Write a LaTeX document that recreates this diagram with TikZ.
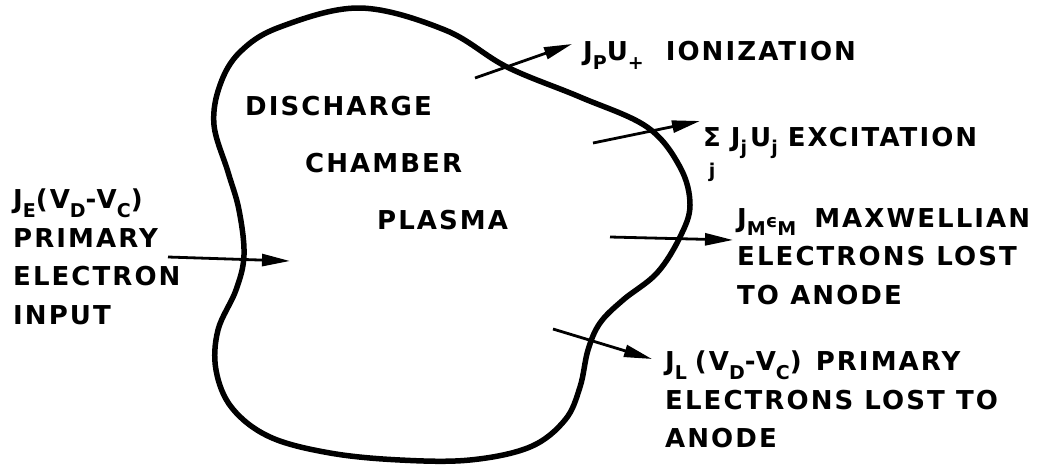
\documentclass[tikz,border=0pt]{standalone}
\usepackage{fontspec}
\setmainfont{DejaVu Sans}[LetterSpace=8]
\usetikzlibrary{arrows.meta}
\newcommand{\lettering}{\fontsize{26}{38.5}\selectfont\bfseries}
\newcommand{\lsub}[1]{\raisebox{-0.6ex}{\fontsize{19}{19}\selectfont #1}}
\newcommand{\eps}{{\fontsize{18}{18}\selectfont ϵ}}
\newcommand{\sumj}{\begin{tabular}[t]{@{}c@{}}Σ\\[-16pt]\lsub{j}\end{tabular}}
\tikzset{
  lbl/.style={inner sep=0pt,anchor=north west,align=left,font=\lettering},
  flow/.style={-{Triangle[length=28pt,width=12pt]},line width=2.8pt},
  rim/.style={line width=5.5pt,line join=round}
}

\begin{document}
\begin{tikzpicture}[x=1pt,y=-1pt]
  \useasboundingbox (0,0) rectangle (1057,469);
  % chamber outline
  \draw[rim] plot[smooth cycle,tension=0.6] coordinates {
    (360,8) (445,30) (507,67) (580,97) (647,127) (680,167) (690,205)
    (680,237) (657,273) (623,300) (600,323) (588,350) (580,387) (565,420)
    (530,447) (470,460) (400,460) (330,453) (270,437) (232,408) (216,370)
    (218,330) (236,290) (244,255) (239,210) (228,172) (214,125) (220,85)
    (240,52) (280,27)};
  % labels inside
  \node[lbl] (dis) at (245,96) {DISCHARGE};
  \node[lbl] (cha) at (305,153) {CHAMBER};
  \node[lbl] (pla) at (377,210) {PLASMA};
  % input
  \node[lbl] (input) at (13,189)
    {J\lsub{E}(V\lsub{D}-V\lsub{C})\\PRIMARY\\ELECTRON\\INPUT};
  % losses
  \node[lbl] (ion) at (583,41) {J\lsub{P}U\lsub{+}\hspace{22pt}IONIZATION};
  \node[lbl] (exc) at (703,119)
    {\sumj\hspace{10pt}J\lsub{j}\hspace{3pt}U\lsub{j}\hspace{10pt}EXCITATION};
  \node[lbl] (max) at (737,208)
    {J\lsub{M}\eps\lsub{M}\hspace{18pt}MAXWELLIAN\\ELECTRONS LOST\\TO ANODE};
  \node[lbl] (prim) at (665,351)
    {J\lsub{L}\hspace{8pt}(V\lsub{D}-V\lsub{C})\hspace{14pt}PRIMARY\\ELECTRONS LOST TO\\ANODE};
  % arrow ends
  \coordinate (inTail) at (168,257);
  \coordinate (inTip) at (290,261);
  \coordinate (ionTail) at (475,78);
  \coordinate (ionTip) at (572,44);
  \coordinate (excTail) at (593,143);
  \coordinate (excTip) at (700,121);
  \coordinate (maxTail) at (610,237);
  \coordinate (maxTip) at (733,240);
  \coordinate (primTail) at (553,329);
  \coordinate (primTip) at (652,359);
  \draw[flow] (inTail) -- (inTip);
  \draw[flow] (ionTail) -- (ionTip);
  \draw[flow] (excTail) -- (excTip);
  \draw[flow] (maxTail) -- (maxTip);
  \draw[flow] (primTail) -- (primTip);
\end{tikzpicture}
\end{document}
